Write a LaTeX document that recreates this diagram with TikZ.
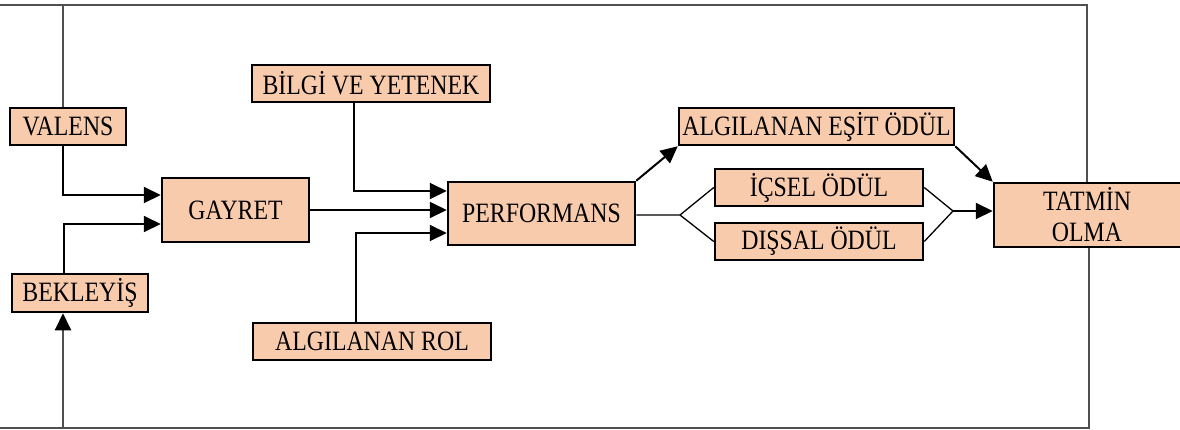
\documentclass[tikz,border=0pt]{standalone}
\usepackage{fontspec}
\setmainfont[FakeStretch=0.85]{Liberation Serif}
\usetikzlibrary{arrows.meta,calc}
\definecolor{peach}{HTML}{F8CBAD}
\definecolor{loopgray}{HTML}{505050}
\tikzset{
  box/.style={draw=black, fill=peach, line width=2.5pt, inner sep=0pt, align=center,
    font=\fontsize{28}{31}\selectfont},
  conn/.style={line width=2pt, draw=black},
  thin/.style={line width=1.3pt, draw=black},
  loopline/.style={line width=2pt, draw=loopgray},
  arr/.style={-{Triangle[length=17pt,width=16pt,color=black]}}
}
\begin{document}
\begin{tikzpicture}[x=1pt,y=-1pt]
\useasboundingbox (0,0) rectangle (1180,429);
% nodes
\node[box, minimum width=116pt, minimum height=37pt] (valens) at (68,126.5) {VALENS};
\node[box, minimum width=238pt, minimum height=37pt] (bilgi) at (371,83.5) {BİLGİ VE YETENEK};
\node[box, minimum width=147pt, minimum height=64pt] (gayret) at (235.5,210) {GAYRET};
\node[box, minimum width=136pt, minimum height=38pt] (bekleyis) at (80,293) {BEKLEYİŞ};
\node[box, minimum width=238pt, minimum height=37pt] (rol) at (372,341.5) {ALGILANAN ROL};
\node[box, minimum width=187pt, minimum height=63pt] (perf) at (541.5,213.5) {PERFORMANS};
\node[box, minimum width=275pt, minimum height=37pt] (esit) at (816.5,126.5) {ALGILANAN EŞİT ÖDÜL};
\node[box, minimum width=208pt, minimum height=37pt] (icsel) at (819,187.5) {İÇSEL ÖDÜL};
\node[box, minimum width=208pt, minimum height=37pt] (dissal) at (819,241.5) {DIŞSAL ÖDÜL};
\node[box, minimum width=200pt, minimum height=64pt] (tatmin) at (1094,215)
  {\hspace*{-14pt}TATMİN\\\hspace*{-14pt}OLMA};
\coordinate (split) at (680,215);
\coordinate (join) at (953,211);
% feedback loops
\draw[loopline] ([xshift=-5pt]valens.north) |- (0,5) -| ([xshift=-7pt]tatmin.north);
\draw[loopline, arr] ([xshift=-5pt]tatmin.south) |- (0,428) -| ([xshift=-17pt]bekleyis.south);
% inputs to GAYRET
\draw[conn, arr] ([xshift=-5pt]valens.south) |- ([yshift=15pt]gayret.west);
\draw[conn, arr] ([xshift=-16pt]bekleyis.north) |- ([yshift=-14pt]gayret.west);
% inputs to PERFORMANS
\draw[conn, arr] (gayret.east) -- (gayret.east -| perf.west);
\draw[conn, arr] ([xshift=-17pt]bilgi.south) |- ([yshift=22.5pt]perf.west);
\draw[conn, arr] ([xshift=-16pt]rol.north) |- ([yshift=-19.5pt]perf.west);
% outputs
\draw[conn, arr] (perf.north east) -- (esit.south west);
\draw[thin] ([yshift=-1.5pt]perf.east) -- (split) -- (icsel.west);
\draw[thin] (split) -- (dissal.west);
\draw[thin] (icsel.east) -- (join) -- (dissal.east);
\draw[conn, arr] (join) -- (join -| tatmin.west);
\draw[conn, arr] (esit.south east) -- (tatmin.north west);
\end{tikzpicture}
\end{document}
